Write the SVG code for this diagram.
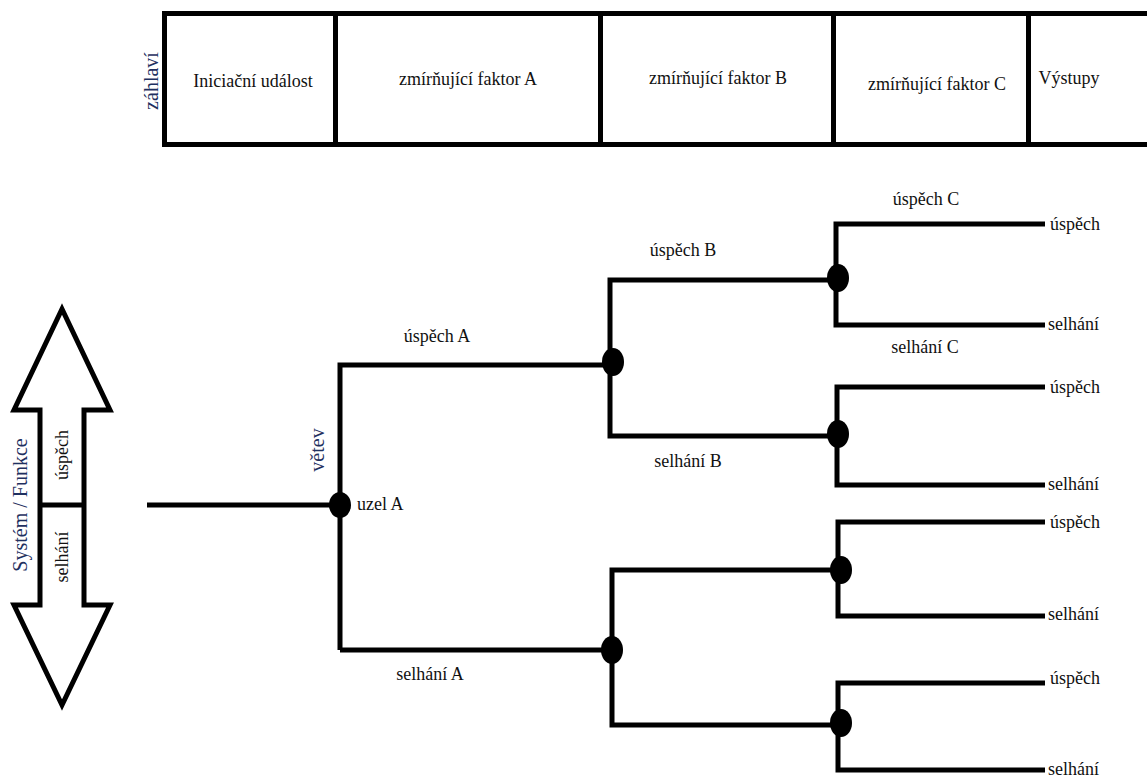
<svg xmlns="http://www.w3.org/2000/svg" width="1147" height="778" viewBox="0 0 1147 778" font-family="Liberation Serif, DejaVu Serif, serif">
<style>
.ln{stroke:#000;stroke-width:5;fill:none}
.nd{fill:#000}
.t{font-size:18px;fill:#111}
.b{font-size:20px;fill:#1f3060}
</style>
<rect width="1147" height="778" fill="#fff"/>
<g id="header">
<path class="ln" d="M1150 13.5H164.5V144.5H1150M335.5 13.5V144.5M600.5 13.5V144.5M833.5 13.5V144.5M1028.5 13.5V144.5"/>
<text class="b" transform="translate(158,81) rotate(-90)" text-anchor="middle">záhlaví</text>
<text class="t" x="253" y="87" text-anchor="middle">Iniciační událost</text>
<text class="t" x="468" y="85" text-anchor="middle">zmírňující faktor A</text>
<text class="t" x="718" y="84" text-anchor="middle">zmírňující faktor B</text>
<text class="t" x="937" y="90" text-anchor="middle">zmírňující faktor C</text>
<text class="t" x="1069" y="84" text-anchor="middle">Výstupy</text>
</g>
<g id="system">
<path class="ln" d="M62 309L110 410H84V605H110L62 705L14 605H40V410H14Z"/>
<path class="ln" d="M40 505H84"/>
<text class="b" transform="translate(27,505) rotate(-90)" text-anchor="middle" font-size="22">Systém / Funkce</text>
<text class="t" transform="translate(68,455) rotate(-90)" text-anchor="middle">úspěch</text>
<text class="t" transform="translate(68,557) rotate(-90)" text-anchor="middle">selhání</text>
</g>
<g id="connectors">
<path class="ln" d="M147 505H340M340 650V365H612"/>
<path class="ln" d="M340 650H612"/>
<path class="ln" d="M838 280H610V436H838"/>
<path class="ln" d="M1045 224H836V325H1045"/>
<path class="ln" d="M1045 387H837V485H1045"/>
<path class="ln" d="M840 570H612V725H840"/>
<path class="ln" d="M1045 522H838V616H1045"/>
<path class="ln" d="M1045 683H838V770H1045"/>
</g>
<g id="nodeA"><ellipse class="nd" cx="340" cy="505" rx="11" ry="13"/><text class="t" x="357" y="510">uzel A</text><text class="b" transform="translate(324,450) rotate(-90)" text-anchor="middle">větev</text></g>
<g id="nodeB1"><ellipse class="nd" cx="613" cy="362" rx="11" ry="14"/></g>
<g id="nodeB2"><ellipse class="nd" cx="612" cy="650" rx="11" ry="14"/></g>
<g id="nodeC1"><ellipse class="nd" cx="838" cy="278" rx="11" ry="14"/></g>
<g id="nodeC2"><ellipse class="nd" cx="838" cy="434" rx="11" ry="14"/></g>
<g id="nodeC3"><ellipse class="nd" cx="841" cy="570" rx="11" ry="14"/></g>
<g id="nodeC4"><ellipse class="nd" cx="841" cy="723" rx="11" ry="14"/></g>
<g id="labels">
<text class="t" x="437" y="342" text-anchor="middle">úspěch A</text>
<text class="t" x="430" y="680" text-anchor="middle">selhání A</text>
<text class="t" x="683" y="256" text-anchor="middle">úspěch B</text>
<text class="t" x="688" y="467" text-anchor="middle">selhání B</text>
<text class="t" x="926" y="205" text-anchor="middle">úspěch C</text>
<text class="t" x="925" y="353" text-anchor="middle">selhání C</text>
</g>
<g id="outcomes">
<text class="t" x="1050" y="230">úspěch</text>
<text class="t" x="1048" y="330">selhání</text>
<text class="t" x="1050" y="393">úspěch</text>
<text class="t" x="1048" y="490">selhání</text>
<text class="t" x="1050" y="528">úspěch</text>
<text class="t" x="1048" y="620">selhání</text>
<text class="t" x="1050" y="684">úspěch</text>
<text class="t" x="1048" y="775">selhání</text>
</g>
</svg>
